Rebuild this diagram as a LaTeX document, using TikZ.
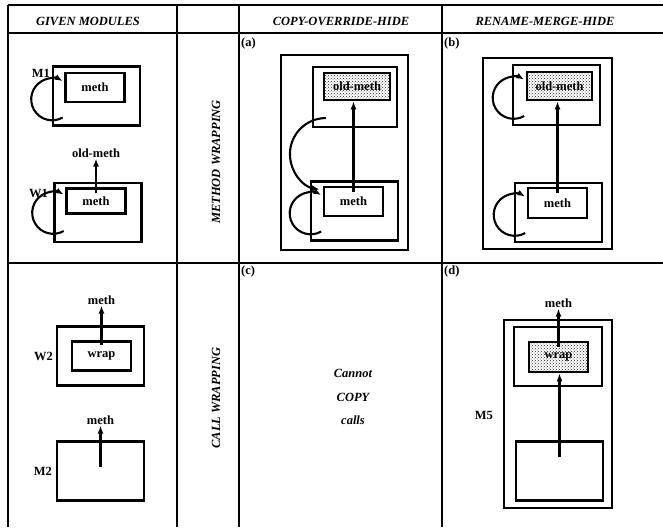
\documentclass[tikz,border=0pt]{standalone}
\usepackage{fontspec}
\setmainfont{Liberation Serif}
\usetikzlibrary{arrows.meta,calc,patterns,positioning}

\begin{document}
\begin{tikzpicture}[x=1pt, y=-1pt, every node/.style={font=\fontsize{12.5}{15}\selectfont\bfseries, inner sep=1pt}, >={Latex[length=8pt,width=6pt]},
	grid/.style={line width=1.9pt},
	modbox/.style={draw, line width=2.1pt, minimum width=87pt, minimum height=59pt, inner sep=0pt},
	methbox/.style={draw, line width=2.6pt, minimum width=59pt, minimum height=29pt, inner sep=0pt},
	shaded/.style={methbox, pattern=crosshatch dots, pattern color=black!85},
	arr/.style={->, line width=2.1pt},
	hdr/.style={font=\fontsize{12.5}{15}\selectfont\bfseries\itshape},
	tag/.style={anchor=north west}]
	\useasboundingbox (0,0) rectangle (663,527);
	% table
	\draw[grid] (8,5) -- (663,5) (8,33) -- (663,33) (8,263) -- (663,263);
	\foreach \x in {8,177,239,442} {\draw[grid] (\x,5) -- (\x,527);}
	\node[hdr] (hgiven) at (88,21) {GIVEN MODULES};
	\node[hdr] (hcopy) at (341,21) {COPY-OVERRIDE-HIDE};
	\node[hdr] (hrename) at (545,21) {RENAME-MERGE-HIDE};
	\node[hdr, rotate=90] (rmethod) at (216,162) {METHOD WRAPPING};
	\node[hdr, rotate=90] (rcall) at (216,398) {CALL WRAPPING};
	% given modules
	\node[modbox] (m1) at (96.5,96) {};
	\node[methbox] (m1meth) at (95,87.5) {meth};
	\node[anchor=east] (m1lbl) at (51,73) {M1};
	\node[modbox] (w1) at (98,212.5) {};
	\node[methbox, minimum height=25pt] (w1meth) at (96,201) {meth};
	\node[anchor=east] (w1lbl) at (49,193) {W1};
	\node (w1out) at (96,153) {old-meth};
	\draw[arr] ([yshift=-6pt]w1meth.north) -- (w1out.south);
	\node[modbox] (w2) at (100.5,356) {};
	\node[methbox] (w2wrap) at (101.5,356) {wrap};
	\node[anchor=east] (w2lbl) at (54,356) {W2};
	\node (w2out) at (101.5,300) {meth};
	\draw[arr] ([yshift=-5pt]w2wrap.north) -- (w2out.south);
	\node[modbox] (m2) at (100.5,471) {};
	\node[anchor=east] (m2lbl) at (53,471) {M2};
	\node (m2out) at (100.5,420) {meth};
	\draw[arr] ([yshift=4pt]m2.center) -- (m2out.south);
	% (a) copy-override-hide
	\node[tag] (taga) at (240,37) {(a)};
	\node[modbox, minimum width=127pt, minimum height=195pt] (aout) at (344.5,152.5) {};
	\node[modbox, minimum width=84pt, minimum height=60pt] (aup) at (355,97) {};
	\node[shaded, minimum width=66pt, minimum height=27pt] (aold) at (357,86.5) {old-meth};
	\node[modbox] (alow) at (354.5,211) {};
	\node[methbox] (ameth) at (353.5,201.5) {meth};
	\draw[arr] ([yshift=-6pt]ameth.north) -- (ameth.north |- aold.south);
	\draw[arr] ([xshift=14pt,yshift=10pt]aup.south west) arc[start angle=270, end angle=100, radius=36];
	% (b) rename-merge-hide
	\node[tag] (tagb) at (443,37) {(b)};
	\node[modbox, minimum width=129pt, minimum height=191pt] (bout) at (547.5,153.5) {};
	\node[modbox, minimum height=60pt] (bup) at (556.5,95) {};
	\node[shaded, minimum width=65pt, minimum height=28pt] (bprev) at (559.5,86) {old-meth};
	\node[modbox] (blow) at (558.5,212.5) {};
	\node[methbox, minimum height=30pt] (bmeth) at (557.5,203) {meth};
	\draw[arr] ([yshift=-6pt]bmeth.north) -- (bmeth.north |- bprev.south);
	% self calls
	\foreach \n in {m1meth,w1meth,ameth,bprev,bmeth} {\draw[arr] ($(\n.west)+(-1.5,30)$) arc[start angle=60, end angle=300, radius=21];}
	% (c)
	\node[tag] (tagc) at (240,265) {(c)};
	\node[align=center, font=\fontsize{12.5}{23.5}\selectfont\bfseries\itshape] (cnote) at (353,397) {Cannot\\COPY\\calls};
	% (d)
	\node[tag] (tagd) at (443,265) {(d)};
	\node[modbox, minimum width=108pt, minimum height=188pt] (m5) at (558,414) {};
	\node[anchor=east] (m5lbl) at (494,415) {M5};
	\node[modbox, minimum width=88pt] (dup) at (558,356.5) {};
	\node[shaded, minimum height=30pt] (dwrap) at (558.5,357) {wrap};
	\node[modbox] (dlow) at (559.5,471) {};
	\node (dout) at (558.5,303) {meth};
	\draw[arr] ([yshift=14pt]dlow.center) -- (dlow.center |- dwrap.south);
	\draw[arr] ([yshift=-6pt]dwrap.north) -- (dwrap.north |- dout.south);
\end{tikzpicture}
\end{document}
